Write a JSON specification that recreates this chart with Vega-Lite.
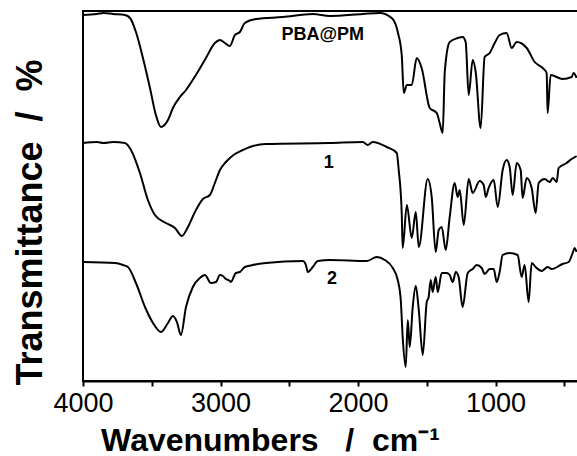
{
  "$schema": "https://vega.github.io/schema/vega-lite/v6.json",
  "width": 495,
  "height": 370,
  "autosize": "none",
  "padding": {"left": 83, "top": 11, "right": 0, "bottom": 75},
  "config": {
    "view": {"stroke": "black", "strokeWidth": 2},
    "font": "Liberation Sans"
  },
  "layer": [
    {
      "data": {
        "values": [
          {"s": "PBA@PM", "wn": 4000, "t": 366},
          {"s": "PBA@PM", "wn": 3900, "t": 367},
          {"s": "PBA@PM", "wn": 3850, "t": 368},
          {"s": "PBA@PM", "wn": 3780, "t": 367},
          {"s": "PBA@PM", "wn": 3695, "t": 366},
          {"s": "PBA@PM", "wn": 3658, "t": 363},
          {"s": "PBA@PM", "wn": 3615, "t": 349},
          {"s": "PBA@PM", "wn": 3564, "t": 323},
          {"s": "PBA@PM", "wn": 3513, "t": 293},
          {"s": "PBA@PM", "wn": 3470, "t": 266},
          {"s": "PBA@PM", "wn": 3433, "t": 254},
          {"s": "PBA@PM", "wn": 3382, "t": 261},
          {"s": "PBA@PM", "wn": 3346, "t": 273},
          {"s": "PBA@PM", "wn": 3295, "t": 284},
          {"s": "PBA@PM", "wn": 3251, "t": 291},
          {"s": "PBA@PM", "wn": 3179, "t": 306},
          {"s": "PBA@PM", "wn": 3106, "t": 323},
          {"s": "PBA@PM", "wn": 3041, "t": 338},
          {"s": "PBA@PM", "wn": 3004, "t": 341},
          {"s": "PBA@PM", "wn": 2968, "t": 338},
          {"s": "PBA@PM", "wn": 2932, "t": 335},
          {"s": "PBA@PM", "wn": 2895, "t": 346},
          {"s": "PBA@PM", "wn": 2859, "t": 349},
          {"s": "PBA@PM", "wn": 2823, "t": 358},
          {"s": "PBA@PM", "wn": 2743, "t": 362},
          {"s": "PBA@PM", "wn": 2547, "t": 364},
          {"s": "PBA@PM", "wn": 2329, "t": 367},
          {"s": "PBA@PM", "wn": 2205, "t": 365},
          {"s": "PBA@PM", "wn": 1965, "t": 367},
          {"s": "PBA@PM", "wn": 1842, "t": 368},
          {"s": "PBA@PM", "wn": 1755, "t": 363},
          {"s": "PBA@PM", "wn": 1718, "t": 353},
          {"s": "PBA@PM", "wn": 1711, "t": 349},
          {"s": "PBA@PM", "wn": 1682, "t": 326},
          {"s": "PBA@PM", "wn": 1667, "t": 288},
          {"s": "PBA@PM", "wn": 1645, "t": 296},
          {"s": "PBA@PM", "wn": 1609, "t": 296},
          {"s": "PBA@PM", "wn": 1573, "t": 323},
          {"s": "PBA@PM", "wn": 1537, "t": 313},
          {"s": "PBA@PM", "wn": 1478, "t": 273},
          {"s": "PBA@PM", "wn": 1427, "t": 268},
          {"s": "PBA@PM", "wn": 1406, "t": 258},
          {"s": "PBA@PM", "wn": 1384, "t": 248},
          {"s": "PBA@PM", "wn": 1369, "t": 309},
          {"s": "PBA@PM", "wn": 1333, "t": 339},
          {"s": "PBA@PM", "wn": 1275, "t": 343},
          {"s": "PBA@PM", "wn": 1239, "t": 344},
          {"s": "PBA@PM", "wn": 1217, "t": 339},
          {"s": "PBA@PM", "wn": 1195, "t": 286},
          {"s": "PBA@PM", "wn": 1166, "t": 321},
          {"s": "PBA@PM", "wn": 1144, "t": 309},
          {"s": "PBA@PM", "wn": 1108, "t": 253},
          {"s": "PBA@PM", "wn": 1079, "t": 324},
          {"s": "PBA@PM", "wn": 1042, "t": 328},
          {"s": "PBA@PM", "wn": 1006, "t": 338},
          {"s": "PBA@PM", "wn": 970, "t": 346},
          {"s": "PBA@PM", "wn": 919, "t": 348},
          {"s": "PBA@PM", "wn": 882, "t": 333},
          {"s": "PBA@PM", "wn": 846, "t": 339},
          {"s": "PBA@PM", "wn": 773, "t": 333},
          {"s": "PBA@PM", "wn": 715, "t": 319},
          {"s": "PBA@PM", "wn": 657, "t": 313},
          {"s": "PBA@PM", "wn": 628, "t": 308},
          {"s": "PBA@PM", "wn": 621, "t": 268},
          {"s": "PBA@PM", "wn": 599, "t": 306},
          {"s": "PBA@PM", "wn": 512, "t": 302},
          {"s": "PBA@PM", "wn": 446, "t": 304},
          {"s": "PBA@PM", "wn": 432, "t": 308},
          {"s": "PBA@PM", "wn": 410, "t": 303},
          {"s": "1", "wn": 4000, "t": 238},
          {"s": "1", "wn": 3900, "t": 239},
          {"s": "1", "wn": 3850, "t": 238},
          {"s": "1", "wn": 3780, "t": 239},
          {"s": "1", "wn": 3695, "t": 238},
          {"s": "1", "wn": 3651, "t": 231},
          {"s": "1", "wn": 3586, "t": 208},
          {"s": "1", "wn": 3528, "t": 181},
          {"s": "1", "wn": 3477, "t": 166},
          {"s": "1", "wn": 3397, "t": 158},
          {"s": "1", "wn": 3331, "t": 153},
          {"s": "1", "wn": 3281, "t": 145},
          {"s": "1", "wn": 3237, "t": 154},
          {"s": "1", "wn": 3186, "t": 169},
          {"s": "1", "wn": 3128, "t": 182},
          {"s": "1", "wn": 3077, "t": 186},
          {"s": "1", "wn": 3041, "t": 198},
          {"s": "1", "wn": 3004, "t": 211},
          {"s": "1", "wn": 2961, "t": 219},
          {"s": "1", "wn": 2895, "t": 227},
          {"s": "1", "wn": 2837, "t": 231},
          {"s": "1", "wn": 2786, "t": 234},
          {"s": "1", "wn": 2670, "t": 237},
          {"s": "1", "wn": 2205, "t": 238},
          {"s": "1", "wn": 1965, "t": 239},
          {"s": "1", "wn": 1929, "t": 236},
          {"s": "1", "wn": 1893, "t": 239},
          {"s": "1", "wn": 1791, "t": 234},
          {"s": "1", "wn": 1718, "t": 228},
          {"s": "1", "wn": 1704, "t": 211},
          {"s": "1", "wn": 1682, "t": 168},
          {"s": "1", "wn": 1675, "t": 133},
          {"s": "1", "wn": 1645, "t": 176},
          {"s": "1", "wn": 1609, "t": 143},
          {"s": "1", "wn": 1580, "t": 169},
          {"s": "1", "wn": 1558, "t": 134},
          {"s": "1", "wn": 1493, "t": 202},
          {"s": "1", "wn": 1464, "t": 184},
          {"s": "1", "wn": 1435, "t": 129},
          {"s": "1", "wn": 1413, "t": 151},
          {"s": "1", "wn": 1391, "t": 154},
          {"s": "1", "wn": 1362, "t": 131},
          {"s": "1", "wn": 1333, "t": 164},
          {"s": "1", "wn": 1297, "t": 198},
          {"s": "1", "wn": 1275, "t": 184},
          {"s": "1", "wn": 1260, "t": 191},
          {"s": "1", "wn": 1231, "t": 156},
          {"s": "1", "wn": 1195, "t": 202},
          {"s": "1", "wn": 1166, "t": 188},
          {"s": "1", "wn": 1115, "t": 200},
          {"s": "1", "wn": 1086, "t": 196},
          {"s": "1", "wn": 1071, "t": 184},
          {"s": "1", "wn": 1050, "t": 193},
          {"s": "1", "wn": 1013, "t": 201},
          {"s": "1", "wn": 984, "t": 174},
          {"s": "1", "wn": 948, "t": 211},
          {"s": "1", "wn": 919, "t": 221},
          {"s": "1", "wn": 897, "t": 214},
          {"s": "1", "wn": 875, "t": 186},
          {"s": "1", "wn": 846, "t": 218},
          {"s": "1", "wn": 817, "t": 211},
          {"s": "1", "wn": 803, "t": 183},
          {"s": "1", "wn": 773, "t": 203},
          {"s": "1", "wn": 737, "t": 193},
          {"s": "1", "wn": 708, "t": 168},
          {"s": "1", "wn": 686, "t": 198},
          {"s": "1", "wn": 643, "t": 202},
          {"s": "1", "wn": 606, "t": 199},
          {"s": "1", "wn": 584, "t": 203},
          {"s": "1", "wn": 555, "t": 199},
          {"s": "1", "wn": 541, "t": 213},
          {"s": "1", "wn": 483, "t": 218},
          {"s": "1", "wn": 446, "t": 222},
          {"s": "1", "wn": 410, "t": 225},
          {"s": "2", "wn": 4000, "t": 119},
          {"s": "2", "wn": 3767, "t": 118},
          {"s": "2", "wn": 3709, "t": 116},
          {"s": "2", "wn": 3673, "t": 114},
          {"s": "2", "wn": 3615, "t": 98},
          {"s": "2", "wn": 3549, "t": 74},
          {"s": "2", "wn": 3491, "t": 58},
          {"s": "2", "wn": 3433, "t": 49},
          {"s": "2", "wn": 3382, "t": 58},
          {"s": "2", "wn": 3346, "t": 65},
          {"s": "2", "wn": 3317, "t": 59},
          {"s": "2", "wn": 3288, "t": 46},
          {"s": "2", "wn": 3251, "t": 74},
          {"s": "2", "wn": 3201, "t": 94},
          {"s": "2", "wn": 3150, "t": 103},
          {"s": "2", "wn": 3113, "t": 106},
          {"s": "2", "wn": 3070, "t": 98},
          {"s": "2", "wn": 3033, "t": 99},
          {"s": "2", "wn": 3004, "t": 106},
          {"s": "2", "wn": 2983, "t": 105},
          {"s": "2", "wn": 2961, "t": 102},
          {"s": "2", "wn": 2932, "t": 100},
          {"s": "2", "wn": 2925, "t": 99},
          {"s": "2", "wn": 2888, "t": 108},
          {"s": "2", "wn": 2859, "t": 109},
          {"s": "2", "wn": 2823, "t": 114},
          {"s": "2", "wn": 2765, "t": 116},
          {"s": "2", "wn": 2670, "t": 118},
          {"s": "2", "wn": 2401, "t": 120},
          {"s": "2", "wn": 2379, "t": 116},
          {"s": "2", "wn": 2365, "t": 109},
          {"s": "2", "wn": 2329, "t": 114},
          {"s": "2", "wn": 2292, "t": 120},
          {"s": "2", "wn": 2205, "t": 121},
          {"s": "2", "wn": 1936, "t": 120},
          {"s": "2", "wn": 1864, "t": 124},
          {"s": "2", "wn": 1805, "t": 121},
          {"s": "2", "wn": 1747, "t": 113},
          {"s": "2", "wn": 1711, "t": 101},
          {"s": "2", "wn": 1689, "t": 81},
          {"s": "2", "wn": 1675, "t": 44},
          {"s": "2", "wn": 1653, "t": 14},
          {"s": "2", "wn": 1638, "t": 61},
          {"s": "2", "wn": 1624, "t": 34},
          {"s": "2", "wn": 1602, "t": 74},
          {"s": "2", "wn": 1580, "t": 95},
          {"s": "2", "wn": 1558, "t": 71},
          {"s": "2", "wn": 1529, "t": 26},
          {"s": "2", "wn": 1500, "t": 79},
          {"s": "2", "wn": 1486, "t": 84},
          {"s": "2", "wn": 1471, "t": 101},
          {"s": "2", "wn": 1457, "t": 89},
          {"s": "2", "wn": 1435, "t": 104},
          {"s": "2", "wn": 1420, "t": 89},
          {"s": "2", "wn": 1391, "t": 108},
          {"s": "2", "wn": 1355, "t": 108},
          {"s": "2", "wn": 1333, "t": 106},
          {"s": "2", "wn": 1311, "t": 99},
          {"s": "2", "wn": 1289, "t": 109},
          {"s": "2", "wn": 1268, "t": 104},
          {"s": "2", "wn": 1239, "t": 74},
          {"s": "2", "wn": 1202, "t": 108},
          {"s": "2", "wn": 1166, "t": 112},
          {"s": "2", "wn": 1137, "t": 116},
          {"s": "2", "wn": 1100, "t": 113},
          {"s": "2", "wn": 1079, "t": 107},
          {"s": "2", "wn": 1042, "t": 112},
          {"s": "2", "wn": 1013, "t": 112},
          {"s": "2", "wn": 991, "t": 99},
          {"s": "2", "wn": 970, "t": 109},
          {"s": "2", "wn": 948, "t": 126},
          {"s": "2", "wn": 897, "t": 128},
          {"s": "2", "wn": 839, "t": 126},
          {"s": "2", "wn": 810, "t": 104},
          {"s": "2", "wn": 788, "t": 116},
          {"s": "2", "wn": 759, "t": 79},
          {"s": "2", "wn": 737, "t": 118},
          {"s": "2", "wn": 708, "t": 114},
          {"s": "2", "wn": 664, "t": 110},
          {"s": "2", "wn": 621, "t": 114},
          {"s": "2", "wn": 592, "t": 112},
          {"s": "2", "wn": 512, "t": 117},
          {"s": "2", "wn": 468, "t": 119},
          {"s": "2", "wn": 439, "t": 128},
          {"s": "2", "wn": 425, "t": 133},
          {"s": "2", "wn": 410, "t": 129}
        ]
      },
      "mark": {"type": "line", "color": "black", "strokeWidth": 2, "clip": true, "interpolate": "monotone"},
      "encoding": {
        "x": {
          "field": "wn",
          "type": "quantitative",
          "scale": {"domain": [4000, 400], "nice": false, "zero": false},
          "axis": {
            "values": [4000, 3500, 3000, 2500, 2000, 1500, 1000, 500],
            "labelExpr": "datum.value % 1000 == 0 ? datum.value : ''",
            "labelFlush": false,
            "labelOverlap": false,
            "labelFontSize": 27,
            "labelColor": "black",
            "labelPadding": 4,
            "tickSize": 5,
            "tickWidth": 2,
            "tickColor": "black",
            "domainColor": "black",
            "domainWidth": 2,
            "grid": false,
            "title": "Wavenumbers\u00a0\u00a0\u00a0/\u00a0\u00a0cm\u207b\u00b9",
            "titleFontSize": 32,
            "titleFontWeight": "bold",
            "titleColor": "black",
            "titleX": 187,
            "titleY": 69,
            "titleAlign": "center",
            "titleBaseline": "alphabetic"
          }
        },
        "y": {
          "field": "t",
          "type": "quantitative",
          "scale": {"domain": [0, 370], "nice": false},
          "axis": {
            "ticks": false,
            "labels": false,
            "domain": false,
            "grid": false,
            "title": "Transmittance\u00a0\u00a0/\u00a0\u00a0%",
            "titleFontSize": 36,
            "titleFontWeight": "bold",
            "titleColor": "black",
            "titleX": -42,
            "titleY": 211,
            "titleAngle": -90,
            "titleAlign": "center",
            "titleBaseline": "alphabetic"
          }
        },
        "detail": {"field": "s"}
      }
    },
    {
      "data": {
        "values": [
          {"label": "PBA@PM", "wn": 2256, "t": 346},
          {"label": "1", "wn": 2212, "t": 218},
          {"label": "2", "wn": 2190, "t": 102}
        ]
      },
      "mark": {"type": "text", "fontWeight": "bold", "fontSize": 18, "color": "black", "baseline": "middle", "align": "center"},
      "encoding": {
        "x": {"field": "wn", "type": "quantitative"},
        "y": {"field": "t", "type": "quantitative"},
        "text": {"field": "label"}
      }
    }
  ]
}
